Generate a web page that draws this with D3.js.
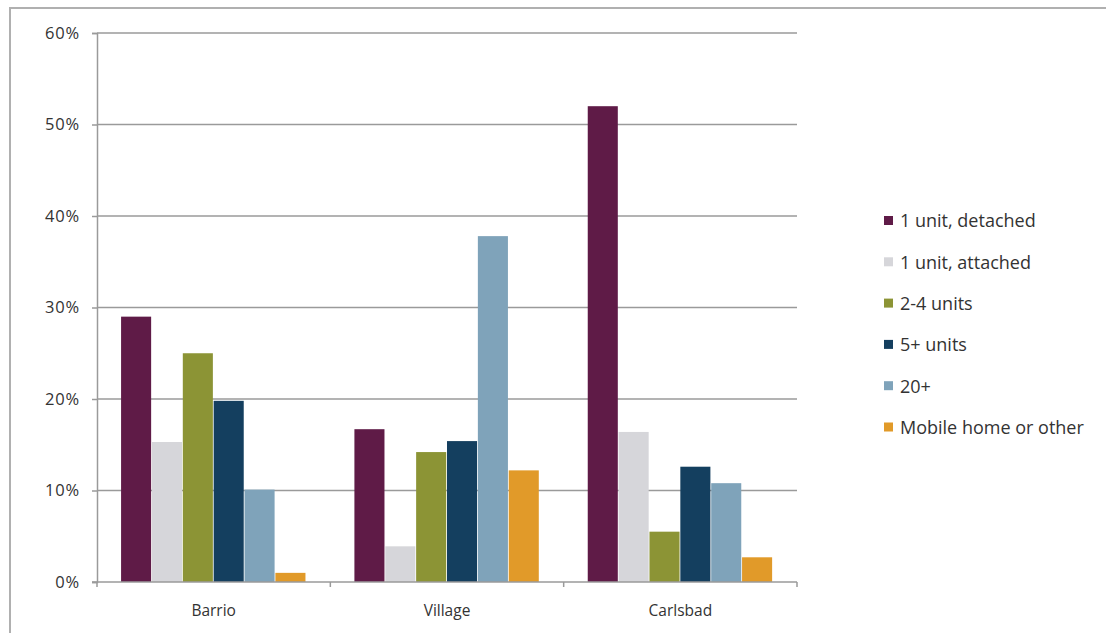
<!DOCTYPE html>
<html><head><meta charset="utf-8">
<script src="https://cdn.jsdelivr.net/npm/d3@7"></script>
<style>body{margin:0;background:#fff}svg{display:block}text{font-family:"Open Sans",Lato,sans-serif;fill:#333}</style>
</head><body><svg id="c" width="1106" height="633"></svg>
<script>
const categories = ["Barrio", "Village", "Carlsbad"];
const seriesNames = ["1 unit, detached", "1 unit, attached", "2-4 units", "5+ units", "20+", "Mobile home or other"];
const detached = [29.0, 16.7, 52.0];
const attached = [15.3, 3.9, 16.4];
const units2to4 = [25.0, 14.2, 5.5];
const units5plus = [19.8, 15.4, 12.6];
const units20plus = [10.1, 37.8, 10.8];
const mobile = [1.0, 12.2, 2.7];
const yTicks = [0, 10, 20, 30, 40, 50, 60];
const colors = ["#5f1b47", "#d6d6da", "#8c9435", "#143f5f", "#7fa3ba", "#e19a29"];

const seriesValues = [detached, attached, units2to4, units5plus, units20plus, mobile];
const svg = d3.select("#c");

// outer frame
svg.append("path").attr("d", "M10,640 L10,8 L1110,8").attr("fill", "none").attr("stroke", "#b0b0b0").attr("stroke-width", 2);

const pLeft = 97, pRight = 797, pTop = 33, pBottom = 582;
const x0 = d3.scaleBand().domain(categories).range([pLeft, pRight]).padding(0);
const x1 = d3.scaleBand().domain(seriesNames).range([0, x0.bandwidth()]).paddingInner(0).paddingOuter(0.78);
const y = d3.scaleLinear().domain([0, 60]).range([pBottom, pTop]);

// gridlines
svg.append("g").selectAll("line").data(yTicks.filter(d => d > 0)).join("line")
  .attr("x1", pLeft).attr("x2", pRight).attr("y1", d => y(d)).attr("y2", d => y(d))
  .attr("stroke", "#9a9a9a").attr("stroke-width", 1.5);

// bars
const g = svg.append("g");
seriesNames.forEach((s, si) => {
  g.selectAll(null).data(categories).join("rect")
    .attr("x", c => x0(c) + x1(s))
    .attr("width", x1.bandwidth() - 0.8)
    .attr("y", (c, i) => y(seriesValues[si][i]))
    .attr("height", (c, i) => y(0) - y(seriesValues[si][i]))
    .attr("fill", colors[si]);
});

// y axis
const yAxis = d3.axisLeft(y).tickValues(yTicks).tickFormat(d => d + "%").tickSize(5).tickPadding(12);
const ya = svg.append("g").attr("transform", `translate(${pLeft},0)`).call(yAxis);
ya.select(".domain").attr("stroke", "#9a9a9a").attr("stroke-width", 1.5);
ya.selectAll(".tick line").attr("stroke", "#9a9a9a").attr("stroke-width", 1.5);
ya.selectAll("text").style("font-size", "16.5px").style("fill", "#333").style("font-family", "'Open Sans', sans-serif").style("letter-spacing", "0.8px");

// x axis
const xa = svg.append("g").attr("transform", `translate(0,${pBottom})`);
xa.append("line").attr("x1", pLeft - 5).attr("x2", pRight).attr("y1", 0).attr("y2", 0).attr("stroke", "#9a9a9a").attr("stroke-width", 1.5);
xa.selectAll("line.t").data([pLeft, ...categories.map(c => x0(c) + x0.bandwidth())]).join("line")
  .attr("class", "t").attr("x1", d => d).attr("x2", d => d).attr("y1", 0).attr("y2", 5)
  .attr("stroke", "#9a9a9a").attr("stroke-width", 1.5);
xa.selectAll("text").data(categories).join("text")
  .attr("x", c => x0(c) + x0.bandwidth() / 2).attr("y", 34)
  .attr("text-anchor", "middle").style("font-size", "15.5px").text(c => c);

// legend
const lg = svg.append("g").attr("transform", "translate(884,221)");
seriesNames.forEach((s, i) => {
  const row = lg.append("g").attr("transform", `translate(0,${i * 41.3})`);
  row.append("rect").attr("x", 0).attr("y", -5).attr("width", 9).attr("height", 9).attr("fill", colors[i]);
  row.append("text").attr("x", 16).attr("y", 0).attr("dy", "0.35em").style("font-size", "18px").text(s);
});
</script></body></html>
